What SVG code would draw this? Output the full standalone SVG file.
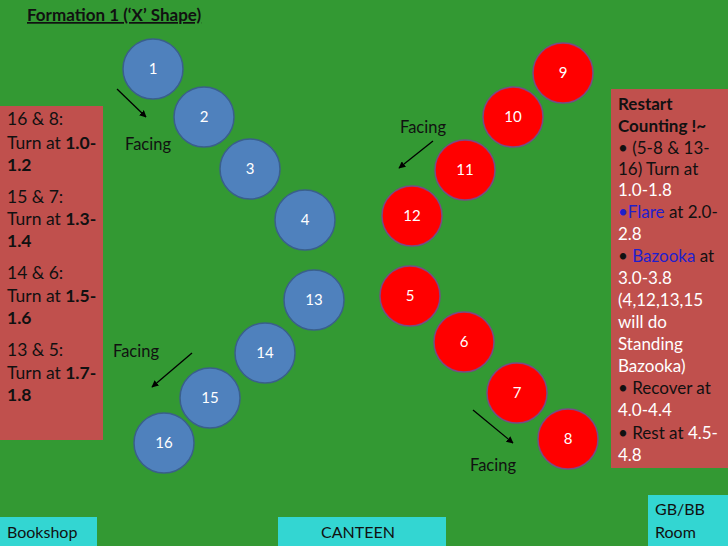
<svg xmlns="http://www.w3.org/2000/svg" width="728" height="546" viewBox="0 0 728 546">
<defs>
<marker id="ah" viewBox="0 0 10 10" refX="9" refY="5" markerWidth="7" markerHeight="7" orient="auto" markerUnits="userSpaceOnUse">
<path d="M0,0 L10,5 L0,10 z" fill="#000"/>
</marker>
<style>
text{font-family:Lato,"Open Sans","Liberation Sans",sans-serif;}
.b{fill:#4F81BD;stroke:#3A5F8C;stroke-width:1.5}
.r{fill:#FF0000;stroke:#7A4A86;stroke-width:1.5}
.n{fill:#fff;font-size:15px;text-anchor:middle}
.box{fill:#C0504D}
.cy{fill:#33D6D2}
.t{font-size:17.5px;fill:#111}
.rt{font-size:17px;fill:#111}
.s{font-size:16px;fill:#111}
.w{fill:#fff}
.bl{fill:#1F1FCC}
.bold{font-weight:bold}
.lbl{font-size:16.5px;fill:#111}
.ar{stroke:#000;stroke-width:1.3;fill:none;marker-end:url(#ah)}
</style>
</defs>
<rect width="728" height="546" fill="#339933"/>
<text x="27" y="21" font-size="17" font-weight="bold" fill="#111" text-decoration="underline">Formation 1 (‘X’ Shape)</text>

<g id="leftbox">
<rect class="box" x="0" y="106" width="103" height="334"/>
<text class="t" x="7" y="125">16 &amp; 8:</text>
<text class="t" x="7" y="149">Turn at <tspan class="bold">1.0-</tspan></text>
<text class="t bold" x="7" y="171">1.2</text>
<text class="t" x="7" y="203">15 &amp; 7:</text>
<text class="t" x="7" y="225">Turn at <tspan class="bold">1.3-</tspan></text>
<text class="t bold" x="7" y="247">1.4</text>
<text class="t" x="7" y="279">14 &amp; 6:</text>
<text class="t" x="7" y="302">Turn at <tspan class="bold">1.5-</tspan></text>
<text class="t bold" x="7" y="324">1.6</text>
<text class="t" x="7" y="356">13 &amp; 5:</text>
<text class="t" x="7" y="379">Turn at <tspan class="bold">1.7-</tspan></text>
<text class="t bold" x="7" y="401">1.8</text>
</g>

<g id="rightbox">
<rect class="box" x="611" y="89" width="117" height="379"/>
<text class="rt bold" x="618" y="110">Restart</text>
<text class="rt bold" x="618" y="132">Counting !~</text>
<text class="rt" x="618" y="154">• (5-8 &amp; 13-</text>
<text class="rt" x="618" y="175">16) Turn at</text>
<text class="rt w" x="618" y="196">1.0-1.8</text>
<text class="rt" x="618" y="218"><tspan class="bl">•Flare</tspan> at 2.0-</text>
<text class="rt w" x="618" y="240">2.8</text>
<text class="rt" x="618" y="262">• <tspan class="bl">Bazooka</tspan> at</text>
<text class="rt w" x="618" y="284">3.0-3.8</text>
<text class="rt w" x="618" y="306">(4,12,13,15</text>
<text class="rt w" x="618" y="328">will do</text>
<text class="rt w" x="618" y="350">Standing</text>
<text class="rt w" x="618" y="372">Bazooka)</text>
<text class="rt" x="618" y="394">• Recover at</text>
<text class="rt w" x="618" y="416">4.0-4.4</text>
<text class="rt" x="618" y="439">• Rest at <tspan class="w">4.5-</tspan></text>
<text class="rt w" x="618" y="461">4.8</text>
</g>

<g id="bookshop"><rect class="cy" x="0" y="517" width="97" height="29"/><text class="s" x="7" y="538">Bookshop</text></g>
<g id="canteen"><rect class="cy" x="278" y="517" width="168" height="29"/><text class="s" x="358" y="538" text-anchor="middle">CANTEEN</text></g>
<g id="gbbb"><rect class="cy" x="648" y="495" width="80" height="51"/><text class="s" x="655" y="515">GB/BB</text><text class="s" x="655" y="538">Room</text></g>

<g id="n1"><circle class="b" cx="153" cy="69" r="30"/><text class="n" x="153" y="74">1</text></g>
<g id="n2"><circle class="b" cx="204" cy="117" r="30"/><text class="n" x="204" y="122">2</text></g>
<g id="n3"><circle class="b" cx="250" cy="169" r="30"/><text class="n" x="250" y="174">3</text></g>
<g id="n4"><circle class="b" cx="305" cy="220" r="30"/><text class="n" x="305" y="225">4</text></g>
<g id="n13"><circle class="b" cx="314" cy="300" r="30"/><text class="n" x="314" y="305">13</text></g>
<g id="n14"><circle class="b" cx="265" cy="353" r="30"/><text class="n" x="265" y="358">14</text></g>
<g id="n15"><circle class="b" cx="210" cy="398" r="30"/><text class="n" x="210" y="403">15</text></g>
<g id="n16"><circle class="b" cx="164" cy="443" r="30"/><text class="n" x="164" y="448">16</text></g>
<g id="n9"><circle class="r" cx="563" cy="73" r="30"/><text class="n" x="563" y="78">9</text></g>
<g id="n10"><circle class="r" cx="513" cy="117" r="30"/><text class="n" x="513" y="122">10</text></g>
<g id="n11"><circle class="r" cx="465" cy="170" r="30"/><text class="n" x="465" y="175">11</text></g>
<g id="n12"><circle class="r" cx="412" cy="216" r="30"/><text class="n" x="412" y="221">12</text></g>
<g id="n5"><circle class="r" cx="410" cy="296" r="30"/><text class="n" x="410" y="301">5</text></g>
<g id="n6"><circle class="r" cx="464" cy="342" r="30"/><text class="n" x="464" y="347">6</text></g>
<g id="n7"><circle class="r" cx="517" cy="393" r="30"/><text class="n" x="517" y="398">7</text></g>
<g id="n8"><circle class="r" cx="568" cy="439" r="30"/><text class="n" x="568" y="444">8</text></g>

<g id="connectors">
<line class="ar" x1="117" y1="89" x2="146" y2="117"/>
<line class="ar" x1="433" y1="141" x2="399" y2="168"/>
<line class="ar" x1="192" y1="353" x2="152" y2="387"/>
<line class="ar" x1="473" y1="410" x2="513" y2="443"/>
</g>
<text class="lbl" x="125" y="150">Facing</text>
<text class="lbl" x="400" y="133">Facing</text>
<text class="lbl" x="113" y="357">Facing</text>
<text class="lbl" x="470" y="471">Facing</text>
</svg>
